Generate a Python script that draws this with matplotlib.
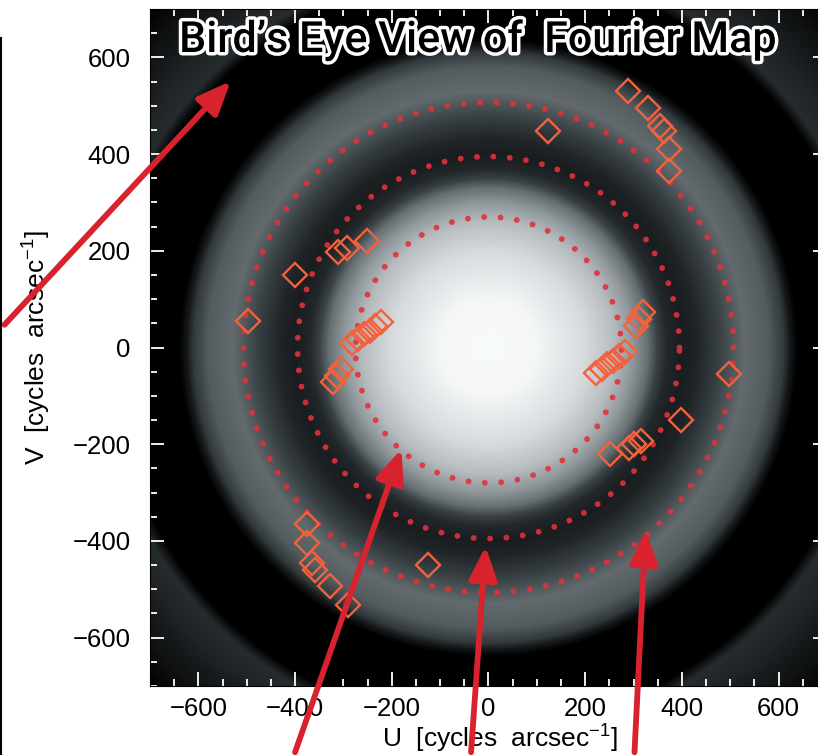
import numpy as np
import matplotlib
matplotlib.use("Agg")
import matplotlib.pyplot as plt
import matplotlib.patheffects as pe
from matplotlib.colors import LinearSegmentedColormap

# radial brightness of the visibility map (U-V radius -> grey level)
profile_r = [0, 100, 200, 260, 300, 330, 350, 370, 400, 430, 470, 530, 580, 610, 625, 640, 780, 805, 850, 920, 1000]
profile_level = [1.0, 0.99, 0.90, 0.80, 0.68, 0.52, 0.33, 0.20, 0.15, 0.18, 0.30, 0.50, 0.44, 0.30, 0.12, 0.0, 0.0, 0.22, 0.18, 0.10, 0.0]

# uv sampling points
u_pts = [-400, -311, -293, -252,
         -282, -270, -258, -246, -234, -222,
         -322, -314, -306,
         -498, -125, -375, -375, -364, -358, -327, -290,
         398, 316, 302, 290, 251,
         222, 234, 246, 258, 270, 282,
         306, 312, 320,
         498, 124, 374, 374, 364, 354, 330, 289]
v_pts = [150, 198, 205, 220,
         10, 18, 27, 35, 44, 52,
         -72, -58, -45,
         54, -450, -364, -405, -446, -460, -494, -532,
         -150, -193, -200, -207, -220,
         -52, -44, -35, -27, -18, -10,
         45, 58, 74,
         -55, 448, 366, 410, 448, 458, 496, 530]

# dotted reference circles (radius, centre offset in V)
circle_r = [275, 395, 507]
circle_v0 = [-5, 0, 0]

# annotation arrows: tail and head in U-V units
arrow_tail = [(-1001, 47), (-400, -837), (-36, -837), (302, -837)]
arrow_head = [(-533, 551), (-180, -210), (-6, -411), (325, -378)]

u_ticks = [-600, -400, -200, 0, 200, 400, 600]
v_ticks = [-600, -400, -200, 0, 200, 400, 600]

plt.rcParams['font.family'] = ['Liberation Sans', 'DejaVu Sans']
plt.rcParams['mathtext.fontset'] = 'custom'
plt.rcParams['mathtext.rm'] = 'Liberation Sans'
plt.rcParams['mathtext.it'] = 'Liberation Sans'

fig = plt.figure(figsize=(8.18, 7.55), dpi=100)
ax = fig.add_axes([0.1809, 0.0914, 0.8325, 0.8966])

grid = np.linspace(-700, 700, 900)
gu, gv = np.meshgrid(grid, grid)
rad = np.hypot(gu, gv)
img = np.interp(rad, profile_r, profile_level)
cmap = LinearSegmentedColormap.from_list("uvgrey", ["#000000", "#3a4246", "#8b9397", "#f7f9fa"])
ax.imshow(img, cmap=cmap, vmin=0, vmax=1, extent=[-700, 700, -700, 700],
          origin="lower", interpolation="bilinear", zorder=0)

theta = np.linspace(0, 2 * np.pi, 400)
for r, v0 in zip(circle_r, circle_v0):
    ax.plot(r * np.cos(theta), v0 + r * np.sin(theta), color="#e3303a", lw=4.2,
            linestyle=(0, (0.01, 2.8)), dash_capstyle="round", alpha=0.9, zorder=2)

ax.plot(u_pts, v_pts, linestyle="none", marker="D", markersize=12,
        markerfacecolor="none", markeredgecolor="#f2623c", markeredgewidth=1.7, zorder=3)

ax.set_xlim(-700, 700)
ax.set_ylim(-700, 700)
ax.set_xticks(u_ticks)
ax.set_yticks(v_ticks)
ax.set_xticks(np.arange(-700, 701, 50), minor=True)
ax.set_yticks(np.arange(-700, 701, 50), minor=True)
ax.tick_params(which="both", direction="in", color="white", top=True, right=True,
               labelsize=18.5)
ax.tick_params(axis="x", pad=8)
ax.tick_params(axis="y", pad=14)
ax.tick_params(which="major", length=10, width=1.3)
ax.tick_params(which="minor", length=5, width=1.3)
for s in ax.spines.values():
    s.set_color("black")

ax.set_xlabel(r"U  [cycles  arcsec$^{-1}$]", fontsize=19)
ax.xaxis.set_label_coords(0.517, -0.055)
ax.set_ylabel(r"V  [cycles  arcsec$^{-1}$]", fontsize=19, labelpad=14)

# outlined title inside the map
ax.text(-23, 635, "Bird\u2019s Eye View of  Fourier Map", family=["Roboto", "DejaVu Sans"],
        fontsize=31, fontweight=500, color="black", ha="center", va="center", zorder=5,
        path_effects=[pe.Stroke(linewidth=5, foreground="white"), pe.Normal()])

for (tu, tv), (hu, hv) in zip(arrow_tail, arrow_head):
    ax.annotate("", xy=(hu, hv), xytext=(tu, tv), annotation_clip=False,
                arrowprops=dict(arrowstyle="-|>,head_length=1.0,head_width=0.42",
                                mutation_scale=20, color="#d8232e", lw=4.2,
                                shrinkA=0, shrinkB=0, clip_on=False),
                zorder=6)

fig.add_artist(plt.Line2D([0.0015, 0.0015], [0.0, 0.95], color="black", lw=1.5,
                          transform=fig.transFigure))

fig.savefig("out.png", dpi=100)
